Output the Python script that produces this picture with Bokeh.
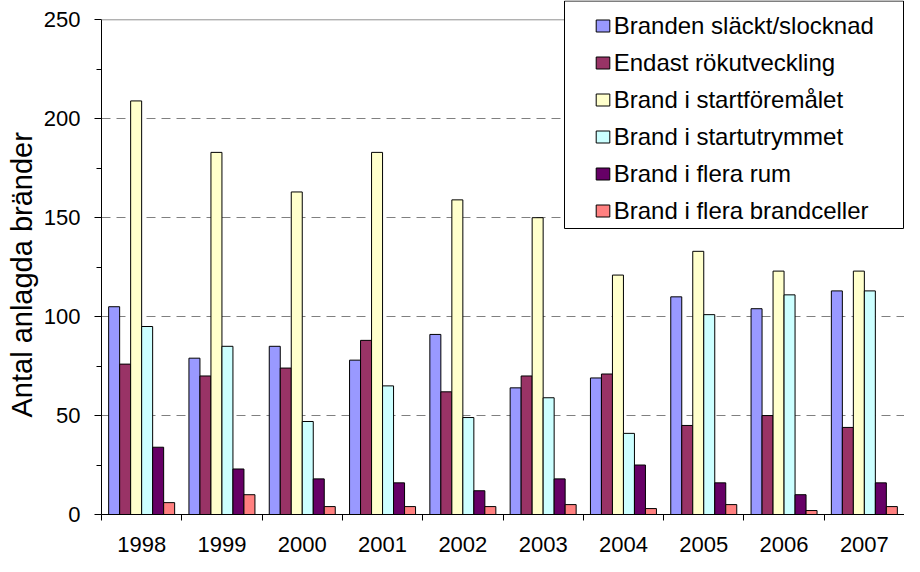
from bokeh.plotting import figure
from bokeh.models import (FixedTicker, Legend, LegendItem, BoxAnnotation, Span,
                          Range1d, ColumnDataSource, Title)
from bokeh.transform import dodge
from bokeh.embed import file_html
from bokeh.resources import INLINE

years = ["1998", "1999", "2000", "2001", "2002", "2003", "2004", "2005", "2006", "2007"]
series_names = [
    "Branden släckt/slocknad",
    "Endast rökutveckling",
    "Brand i startföremålet",
    "Brand i startutrymmet",
    "Brand i flera rum",
    "Brand i flera brandceller",
]
colors = ["#9999FF", "#993366", "#FFFFCC", "#CCFFFF", "#660066", "#FF8080"]

slackt_slocknad = [105, 79, 85, 78, 91, 64, 69, 110, 104, 113]
endast_rok = [76, 70, 74, 88, 62, 70, 71, 45, 50, 44]
startforemalet = [209, 183, 163, 183, 159, 150, 121, 133, 123, 123]
startutrymmet = [95, 85, 47, 65, 49, 59, 41, 101, 111, 113]
flera_rum = [34, 23, 18, 16, 12, 18, 25, 16, 10, 16]
flera_brandceller = [6, 10, 4, 4, 4, 5, 3, 5, 2, 4]

y_ticks = [0, 50, 100, 150, 200, 250]
y_minor = [25, 75, 125, 175, 225]
y_label = "Antal anlagda bränder"

series = [slackt_slocknad, endast_rok, startforemalet, startutrymmet, flera_rum, flera_brandceller]
keys = ["s0", "s1", "s2", "s3", "s4", "s5"]

n = len(years)
centers = [i + 0.5 for i in range(n)]
data = {"x": centers}
for k, s in zip(keys, series):
    data[k] = s
source = ColumnDataSource(data)

# layout geometry (pixels)
W, H = 904, 556
left_b, bottom_b = 101, 42
frame_w = W - left_b
frame_h = H - bottom_b
px_per_cat = frame_w / n
top_grid_px = 19.3
px_per_unit = (frame_h - top_grid_px) / (y_ticks[-1] - y_ticks[0])
y_end = frame_h / px_per_unit

p = figure(width=W, height=H, output_backend="svg", toolbar_location=None,
           x_range=Range1d(0, n), y_range=Range1d(0, y_end),
           min_border_left=left_b, min_border_right=0, min_border_top=0,
           min_border_bottom=bottom_b)
p.outline_line_color = None
p.background_fill_color = "white"
p.border_fill_color = "white"

bw = 11.0 / px_per_cat
renderers = []
for j, (k, c) in enumerate(zip(keys, colors)):
    r = p.vbar(x=dodge("x", (j - 2.5) * bw, range=p.x_range), top=k, width=bw,
               bottom=0, source=source, fill_color=c, line_color="black", line_width=1)
    renderers.append(r)

# grid
p.xgrid.visible = False
p.ygrid.ticker = FixedTicker(ticks=y_ticks[1:-1])
p.ygrid.grid_line_color = "#808080"
p.ygrid.grid_line_dash = "9 6"
p.ygrid.grid_line_width = 1
p.add_layout(Span(location=y_ticks[-1], dimension="width", line_color="#909090", line_width=1))

FONT = "Liberation Sans"

# y axis
ya = p.yaxis[0]
ya.ticker = FixedTicker(ticks=y_ticks, minor_ticks=y_minor)
ya.bounds = (y_ticks[0], y_ticks[-1])
ya.axis_line_color = "black"
ya.major_tick_line_color = "black"
ya.minor_tick_line_color = "black"
ya.major_tick_out = 7
ya.major_tick_in = 0
ya.minor_tick_out = 5
ya.minor_tick_in = 0
ya.major_label_text_font = FONT
ya.major_label_text_font_size = "22px"
ya.major_label_text_color = "black"
ya.major_label_standoff = 14

# rotated y-axis title as a left-side title, positioned from the bottom
ytitle = Title(text=y_label, align="left", offset=97, standoff=6,
               text_font=FONT, text_font_size="29px", text_font_style="normal",
               text_color="black")
p.add_layout(ytitle, "left")

# x axis
xa = p.xaxis[0]
xa.ticker = FixedTicker(ticks=centers, minor_ticks=list(range(n + 1)))
xa.major_label_overrides = {c: y for c, y in zip(centers, years)}
xa.axis_line_color = "black"
xa.major_tick_line_color = None
xa.major_tick_out = 0
xa.major_tick_in = 0
xa.minor_tick_line_color = "black"
xa.minor_tick_out = 6
xa.minor_tick_in = 0
xa.major_label_text_font = FONT
xa.major_label_text_font_size = "22px"
xa.major_label_text_color = "black"
xa.major_label_standoff = 16

# legend box (pixel placement converted to data units)
def px_x(x_px):
    return (x_px - left_b) / px_per_cat

def px_y(y_px):
    return (frame_h - y_px) / px_per_unit

box_left, box_right, box_top, box_bottom = 564, 903, 0.5, 228
box = BoxAnnotation(left=px_x(box_left), right=px_x(box_right), top=px_y(box_top),
                    bottom=px_y(box_bottom),
                    fill_color="white", fill_alpha=1.0, line_color="black",
                    line_alpha=1.0, line_width=1)
p.add_layout(box)

legend = Legend(items=[LegendItem(label=nm, renderers=[r]) for nm, r in zip(series_names, renderers)],
                location=(box_left + 29.7 - left_b, frame_h - 229.3), orientation="vertical",
                border_line_color=None, background_fill_alpha=0.0,
                padding=0, spacing=0, margin=0,
                label_height=37, glyph_height=15, glyph_width=17, label_standoff=3,
                label_text_font=FONT, label_text_font_size="24px", label_text_color="black")
p.add_layout(legend, "center")

open("out.html", "w").write(file_html(p, INLINE))
